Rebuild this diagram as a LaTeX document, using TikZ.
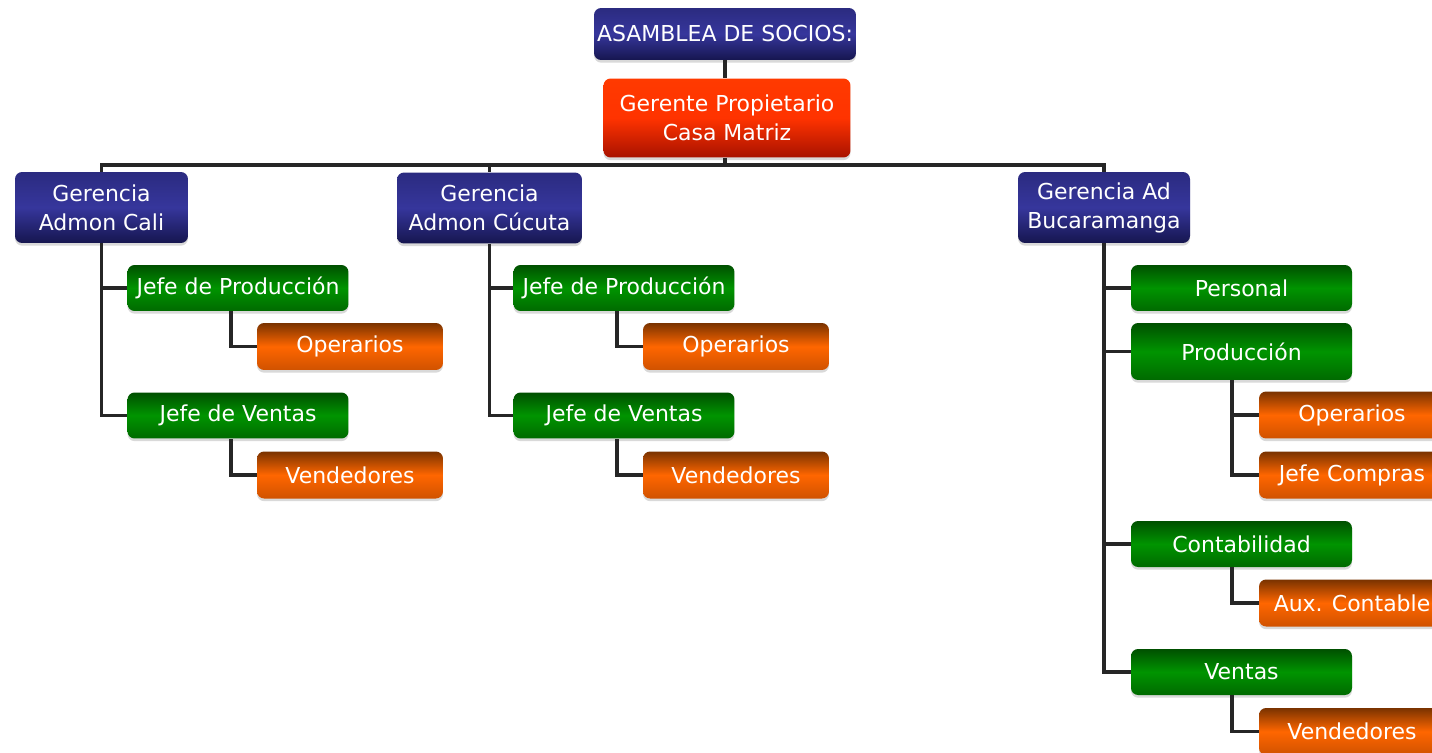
\documentclass[tikz,border=0pt]{standalone}
\usepackage{fontspec}
\setmainfont{DejaVu Sans}
\usepackage{tikz}
\usetikzlibrary{positioning,calc,shadows}

\definecolor{azulTop}{HTML}{2B2B80}
\definecolor{azulMid}{HTML}{36369C}
\definecolor{azulBot}{HTML}{16164F}
\definecolor{rojoTop}{HTML}{FF3A00}
\definecolor{rojoMid}{HTML}{FF3300}
\definecolor{rojoBot}{HTML}{A81200}
\definecolor{verdeTop}{HTML}{005000}
\definecolor{verdeMid}{HTML}{009400}
\definecolor{verdeBot}{HTML}{006A00}
\definecolor{naranjaTop}{HTML}{7A3300}
\definecolor{naranjaMid}{HTML}{FF6600}
\definecolor{naranjaBot}{HTML}{D05200}

\tikzset{
  caja/.style={rounded corners=4pt, text=white, align=center, inner sep=1pt,
    font=\fontsize{12.5}{16.5}\selectfont,
    drop shadow={shadow xshift=0pt, shadow yshift=-1.5pt, opacity=0.3}},
  socios/.style={caja, top color=azulTop, bottom color=azulBot, middle color=azulMid,
    minimum width=5.24cm, minimum height=1.04cm},
  gerente/.style={caja, top color=rojoTop, bottom color=rojoBot, middle color=rojoMid,
    minimum width=4.94cm, minimum height=1.58cm},
  gerencia/.style={caja, top color=azulTop, bottom color=azulBot, middle color=azulMid,
    minimum height=1.42cm},
  jefe/.style={caja, top color=verdeTop, bottom color=verdeBot, middle color=verdeMid,
    minimum width=4.42cm, minimum height=0.92cm},
  cargo/.style={caja, top color=naranjaTop, bottom color=naranjaBot, middle color=naranjaMid,
    minimum width=3.72cm, minimum height=0.94cm},
  link/.style={line width=2.2pt, black!85},
}

\begin{document}
\begin{tikzpicture}[x=0.02cm, y=-0.02cm]
\useasboundingbox (0,0) rectangle (1432,753);
\clip (0,0) rectangle (1432,753);

% ===== Top of the chart =====
\node[socios] (asamblea) at (725,34) {ASAMBLEA DE SOCIOS:};
\node[gerente] (gerente) at (727,118) {Gerente Propietario\\Casa Matriz};
\coordinate (bar) at (725,165);

% Gerencias
\node[gerencia, minimum width=3.46cm] (cali) at (101.5,207.5) {Gerencia\\Admon Cali};
\node[gerencia, minimum width=3.7cm] (cucuta) at (489.5,208) {Gerencia\\Admon Cúcuta};
\node[gerencia, minimum width=3.44cm] (bucaramanga) at (1104,207.5) {Gerencia Ad\\Bucaramanga};

\draw[link] (asamblea.south) -- (asamblea.south |- gerente.north);
\draw[link] (bar |- gerente.south) -- (bar);
\draw[link] (cali.north) |- (bar) -| (bucaramanga.north);
\draw[link] (bar -| cucuta.north) -- (cucuta.north);

% ===== Cali and Cucuta: same branches =====
\foreach \g/\dx in {cali/0, cucuta/386} {
  \node[jefe] (\g-prod) at (238+\dx,288) {Jefe de Producción};
  \node[cargo] (\g-op) at (350+\dx,346.5) {Operarios};
  \node[jefe] (\g-ventas) at (238+\dx,415.5) {Jefe de Ventas};
  \node[cargo] (\g-vend) at (350+\dx,475) {Vendedores};

  \draw[link] (\g.south) |- (\g-prod.west);
  \draw[link] (\g.south) |- (\g-ventas.west);
  \draw[link] (\g-op.west) -| ($(\g-op.west |- \g-prod.south)+(-26,0)$);
  \draw[link] (\g-vend.west) -| ($(\g-vend.west |- \g-ventas.south)+(-26,0)$);
}

% ===== Bucaramanga =====
\node[jefe] (personal) at (1241.5,288) {Personal};
\node[jefe, minimum height=1.14cm] (produccion) at (1241.5,351.5) {Producción};
\node[jefe] (contabilidad) at (1241.5,544) {Contabilidad};
\node[jefe] (ventas) at (1241.5,672) {Ventas};

\node[cargo] (operarios) at (1352,415) {Operarios};
\node[cargo] (compras) at (1352,475) {Jefe Compras};
\node[cargo] (auxiliar) at (1352,603) {Aux. Contable};
\node[cargo] (vendedores) at (1352,731.5) {Vendedores};

\foreach \n in {personal, produccion, contabilidad, ventas}
  \draw[link] (bucaramanga.south) |- (\n.west);

\draw[link] (operarios.west) -| ($(operarios.west |- produccion.south)+(-27,0)$);
\draw[link] (compras.west) -| ($(compras.west |- produccion.south)+(-27,0)$);
\draw[link] (auxiliar.west) -| ($(auxiliar.west |- contabilidad.south)+(-27,0)$);
\draw[link] (vendedores.west) -| ($(vendedores.west |- ventas.south)+(-27,0)$);

\end{tikzpicture}
\end{document}
